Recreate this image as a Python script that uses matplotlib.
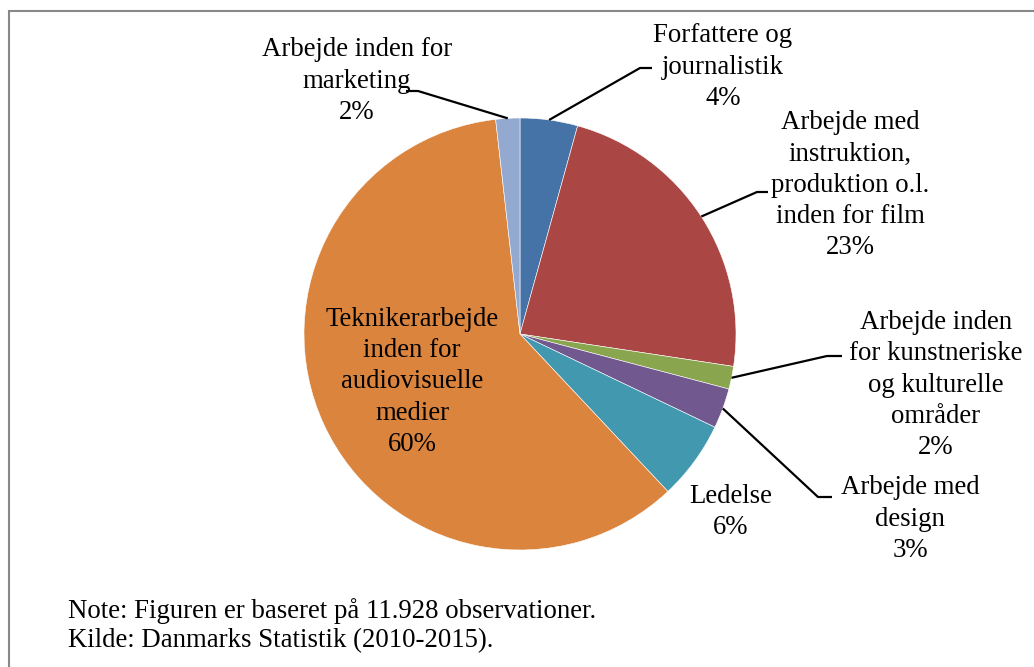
import numpy as np
import matplotlib.pyplot as plt
from matplotlib.patches import Rectangle

plt.rcParams['font.family'] = ['Liberation Serif', 'DejaVu Serif']

# Data (clockwise from 12 o'clock)
categories = ['Forfattere og\njournalistik',
              'Arbejde med\ninstruktion,\nproduktion o.l.\ninden for film',
              'Arbejde inden\nfor kunstneriske\nog kulturelle\nområder',
              'Arbejde med\ndesign',
              'Ledelse',
              'Teknikerarbejde\ninden for\naudiovisuelle\nmedier',
              'Arbejde inden for\nmarketing']
values = [4.3, 23.1, 1.7, 3.0, 5.9, 60.2, 1.8]
colors = ['#4572A7', '#AA4643', '#89A54E', '#71588F', '#4198AF', '#DB843D', '#93A9CF']
note_lines = ['Note: Figuren er baseret på 11.928 observationer.',
              'Kilde: Danmarks Statistik (2010-2015).']

W, H = 1034, 667
fig = plt.figure(figsize=(W / 100, H / 100), dpi=100)
ax = fig.add_axes([0, 0, 1, 1])
ax.axis('off')


def Y(y):
    # layout helper: pixel rows from the top
    return H - y


cx, cy, r = 520, Y(334), 216
wedges, _ = ax.pie(values, colors=colors, startangle=90, counterclock=False,
                   center=(cx, cy), radius=r,
                   wedgeprops=dict(edgecolor='white', linewidth=0.4))
ax.set_aspect('equal')
ax.set_xlim(0, W)
ax.set_ylim(0, H)

fs = 19.3
# label centre positions (pixels), and leader elbow (None = no line)
label_pos = [(723, 67), (850, 185), (936, 385), (910, 519), (731, 512), (412, 382), (357, 81)]
elbows = [((640, 68), (652, 68)), ((757, 192), (768, 192)), ((827, 356), (842, 356)),
          ((818, 497), (832, 497)), None, None, ((418, 91), (406, 91))]

for w, lab, v, (lx, ly), el in zip(wedges, categories, values, label_pos, elbows):
    ax.text(lx, Y(ly), f'{lab}\n{round(v):.0f}%', ha='center', va='center',
            fontsize=fs, linespacing=1.32, color='black')
    if el is not None:
        mid = np.deg2rad((w.theta1 + w.theta2) / 2)
        sx, sy = cx + r * np.cos(mid), cy + r * np.sin(mid)
        (ex, ey), (hx, hy) = el
        ax.plot([sx, ex, hx], [sy, Y(ey), Y(hy)], color='black', lw=1.6,
                solid_capstyle='butt')

for i, line in enumerate(note_lines):
    ax.text(68, Y(611 + i * 29.5), line, ha='left', va='center', fontsize=fs)

fig.patches.append(Rectangle((9 / W, -0.05), 1.1, (H - 11) / H + 0.05,
                             transform=fig.transFigure, fill=False,
                             edgecolor='#888888', linewidth=1.5))

fig.savefig('out.png', dpi=100)
